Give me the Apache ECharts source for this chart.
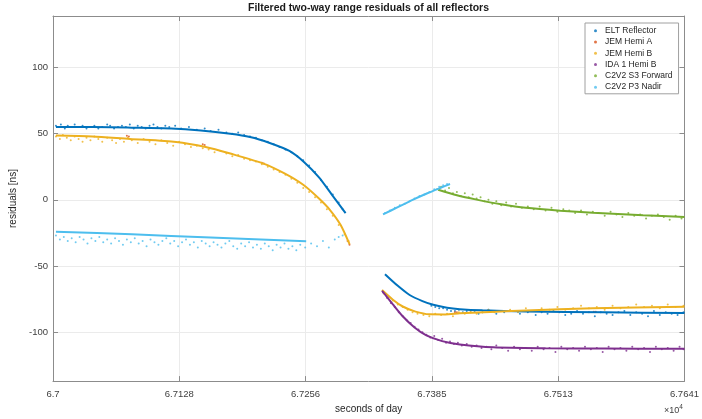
<!DOCTYPE html>
<html>
<head>
<meta charset="utf-8">
<script src="https://cdn.jsdelivr.net/npm/echarts@6/dist/echarts.min.js"></script>
<style>
  html, body { margin: 0; padding: 0; background: #fff; }
  #chart { width: 702px; height: 419px; }
</style>
</head>
<body>
<div id="chart"></div>
<script>
// axis ticks
const xTicks = [67000, 67128.2, 67256.4, 67384.6, 67512.8, 67641];
const xTickLabels = ['6.7', '6.7128', '6.7256', '6.7385', '6.7513', '6.7641'];
const yTicks = [-100, -50, 0, 50, 100];

const names = ['ELT Reflector', 'JEM Hemi A', 'JEM Hemi B', 'IDA 1 Hemi B', 'C2V2 S3 Forward', 'C2V2 P3 Nadir'];
const colors = ['#0072BD', '#D95319', '#EDB120', '#7E2F8E', '#77AC30', '#4DBEEE'];

// measured residuals (dots) [seconds of day, ns]
const eltDots = [
  [67003,56],[67006,55],[67008,57],[67012,54],[67015,56],[67018,55],[67022,57],[67026,55],[67030,56],[67034,54],
  [67038,55],[67042,56],[67046,54],[67050,55],[67055,57],[67058,56],[67062,54],[67066,55],[67070,56],[67074,55],
  [67078,57],[67082,54],[67086,56],[67090,55],[67094,54],[67098,56],[67102,57],[67106,55],[67110,54],[67114,56],
  [67118,55],[67124,56],[67130,54],[67138,55],[67146,53],[67154,54],[67160,52],[67168,53],[67176,51],[67182,50],
  [67188,51],[67194,49],[67200,48],[67206,47],[67212,45],[67218,44],[67224,42],[67230,40],[67236,38],[67242,36],
  [67248,33],[67254,30],[67260,26],[67266,21],[67272,15],[67278,10],[67284,4],[67290,-2],[67294,-7],
  [67384,-80],[67388,-81],[67392,-82],[67396,-82],[67400,-83],[67404,-84],[67408,-84],[67412,-83],[67416,-85],
  [67420,-84],[67424,-85],[67428,-84],[67432,-86],[67436,-85],[67442,-83],[67450,-86],[67458,-85],[67466,-84],
  [67474,-86],[67482,-85],[67490,-87],[67496,-85],[67502,-86],[67508,-84],[67514,-85],[67520,-87],[67526,-86],
  [67532,-84],[67538,-86],[67544,-85],[67550,-88],[67556,-85],[67562,-86],[67568,-87],[67574,-85],[67580,-84],
  [67586,-87],[67592,-85],[67598,-86],[67604,-88],[67610,-84],[67616,-87],[67622,-85],[67628,-86],[67634,-87],
  [67640,-85]
];
const jemADots = [
  [67075,48.5],[67077,48],[67152,42],[67154,41.5],[67212,28],[67214,27.5],[67299,-31],[67301,-34],
  [67408,-85],[67410,-85],[67549,-84.5],[67551,-84.5]
];
const jemBDots = [
  [67003,48],[67007,46],[67010,49],[67014,47],[67018,45],[67022,48],[67026,46],[67030,44],[67034,47],[67038,45],
  [67042,48],[67046,46],[67050,44],[67055,47],[67060,45],[67064,43],[67068,46],[67072,44],[67076,47],[67080,45],
  [67086,43],[67092,46],[67098,44],[67104,42],[67110,45],[67116,43],[67122,41],[67128,44],[67134,42],[67140,40],
  [67146,41],[67152,39],[67158,38],[67164,36],[67170,37],[67176,35],[67182,33],[67188,34],[67194,31],[67200,30],
  [67206,29],[67212,27],[67218,25],[67224,23],[67230,21],[67236,19],[67242,16],[67248,13],[67254,9],[67260,6],
  [67266,2],[67272,-2],[67278,-7],[67284,-12],[67290,-19],[67296,-26],[67300,-31],
  [67336,-71],[67340,-74],[67345,-76],[67350,-79],[67355,-81],[67360,-83],[67365,-85],[67370,-86],[67376,-87],
  [67382,-88],[67388,-86],[67394,-87],[67400,-86],[67406,-88],[67412,-85],[67418,-86],[67424,-84],[67430,-86],
  [67436,-85],[67442,-83],[67448,-85],[67456,-84],[67464,-83],[67472,-85],[67480,-82],[67488,-84],[67496,-82],
  [67504,-83],[67512,-81],[67520,-83],[67528,-82],[67536,-80],[67544,-82],[67552,-81],[67560,-83],[67568,-80],
  [67576,-82],[67584,-81],[67592,-79],[67600,-81],[67608,-80],[67616,-82],[67624,-79],[67632,-81],[67640,-80]
];
const idaDots = [
  [67335,-70],[67339,-74],[67343,-78],[67347,-81],[67351,-85],[67355,-88],[67359,-91],[67363,-93],[67367,-96],
  [67371,-98],[67375,-100],[67379,-102],[67383,-104],[67387,-103],[67391,-106],[67395,-105],[67399,-108],
  [67403,-107],[67407,-109],[67411,-108],[67415,-110],[67420,-109],[67425,-111],[67430,-110],[67435,-112],
  [67440,-111],[67445,-113],[67450,-110],[67456,-112],[67462,-114],[67468,-111],[67474,-113],[67480,-112],
  [67486,-114],[67492,-111],[67498,-113],[67504,-112],[67510,-115],[67516,-111],[67522,-113],[67528,-112],
  [67534,-114],[67540,-111],[67546,-113],[67552,-112],[67558,-115],[67564,-111],[67570,-113],[67576,-112],
  [67582,-114],[67588,-111],[67594,-113],[67600,-112],[67606,-115],[67612,-111],[67618,-113],[67624,-112],
  [67630,-114],[67636,-111],[67640,-113]
];
const s3Dots = [
  [67390,8],[67394,10],[67398,7],[67402,9],[67406,5],[67410,6],[67414,3],[67418,5],[67422,2],[67426,4],
  [67430,1],[67434,2],[67438,-1],[67442,0],[67446,-3],[67450,-1],[67455,-4],[67460,-2],[67465,-5],[67470,-3],
  [67476,-6],[67482,-5],[67488,-7],[67494,-5],[67500,-8],[67506,-6],[67512,-9],[67518,-7],[67524,-8],[67530,-10],
  [67536,-8],[67542,-11],[67548,-9],[67554,-10],[67560,-12],[67566,-9],[67572,-11],[67578,-13],[67584,-10],
  [67590,-12],[67596,-11],[67602,-14],[67608,-12],[67614,-11],[67620,-13],[67626,-15],[67632,-12],[67638,-14]
];
const p3Dots = [
  [67003,-27],[67007,-30],[67011,-28],[67015,-31],[67019,-29],[67023,-32],[67027,-28],[67031,-30],[67035,-33],
  [67039,-29],[67043,-31],[67047,-28],[67051,-32],[67055,-30],[67059,-33],[67063,-29],[67067,-31],[67071,-34],
  [67075,-30],[67079,-32],[67083,-29],[67087,-33],[67091,-31],[67095,-35],[67099,-30],[67103,-32],[67107,-34],
  [67111,-31],[67115,-29],[67119,-33],[67123,-31],[67127,-35],[67131,-32],[67135,-30],[67139,-34],[67143,-32],
  [67147,-36],[67151,-31],[67155,-33],[67159,-35],[67163,-32],[67167,-34],[67171,-36],[67175,-33],[67179,-31],
  [67183,-35],[67187,-37],[67191,-33],[67195,-35],[67199,-32],[67203,-36],[67207,-34],[67211,-37],[67215,-33],
  [67219,-35],[67223,-38],[67227,-34],[67231,-36],[67235,-33],[67239,-37],[67243,-35],[67247,-38],[67251,-34],
  [67256,-36],[67262,-33],[67268,-35],[67274,-31],[67280,-36],[67286,-30],[67290,-28],[67294,-27],
  [67337,-10],[67342,-8],[67347,-6],[67352,-4],[67357,-3],[67362,-1],[67367,1],[67372,3],[67377,4],
  [67382,6],[67387,8],[67392,10],[67396,11],[67400,12]
];

// fitted curves
const eltFit1 = [[67003,55],[67040,55],[67080,54.6],[67120,54],[67150,52.5],[67180,50],[67200,47.5],[67220,43],[67240,37],[67255,28.5],[67270,17],[67283,4],[67297,-10]];
const eltFit2 = [[67337,-56.2],[67350,-65],[67362,-71.9],[67375,-76.5],[67386,-79.3],[67400,-81.5],[67413,-82.6],[67436,-83.5],[67480,-84.3],[67560,-85],[67641,-85.5]];
const jemBFit1 = [[67003,48.7],[67040,48],[67078,46],[67125,43.8],[67155,40],[67180,35],[67213,27.6],[67235,20],[67254,11.4],[67270,1],[67281,-7.5],[67292,-19],[67301,-33.5]];
const jemBFit2 = [[67334,-68.2],[67345,-75.5],[67355,-80.6],[67368,-84.5],[67382,-86.5],[67398,-86.6],[67413,-85.8],[67450,-84.5],[67480,-83.6],[67548,-82],[67641,-80.8]];
const idaFit = [[67334,-68.7],[67345,-79],[67355,-88],[67367,-96.5],[67379,-102.5],[67395,-106.8],[67413,-109.3],[67447,-111.5],[67500,-112.2],[67560,-112.4],[67641,-112.6]];
const s3Fit = [[67391,7.7],[67410,3.5],[67430,0.2],[67455,-3.3],[67480,-6],[67515,-8.2],[67548,-9.7],[67599,-11.7],[67641,-12.9]];
const p3Fit1 = [[67003,-24.1],[67080,-26],[67160,-28.5],[67257,-31.3]];
const p3Fit2 = [[67335,-11],[67350,-5.5],[67365,0],[67380,5],[67393,9],[67403,12]];

const font = 'Liberation Sans, Arial, Helvetica, sans-serif';
const chart = echarts.init(document.getElementById('chart'));

function dots(i, data) {
  return {
    name: names[i], type: 'scatter', data: data,
    symbol: 'circle', symbolSize: 2,
    itemStyle: { color: colors[i], opacity: 0.8 },
    silent: true, z: 2
  };
}
function fit(i, data) {
  return {
    name: names[i] + ' fit', type: 'line', data: data,
    smooth: 0.25, showSymbol: false,
    lineStyle: { color: colors[i], width: 2 },
    silent: true, z: 3
  };
}

const axisLineStyle = { color: '#8c8c8c', width: 1 };
const labelStyle = { color: '#404040', fontSize: 9.5, fontFamily: font };

chart.setOption({
  animation: false,
  backgroundColor: '#fff',
  graphic: [
    { type: 'text', left: 369 - 121, top: 3,
      style: { text: 'Filtered two-way range residuals of all reflectors', font: 'bold 10.5px ' + font, fill: '#1a1a1a' } },
    { type: 'text', left: 664, top: 404,
      style: { rich: { a: { fontSize: 9, fontFamily: font, fill: '#404040' }, s: { fontSize: 6.5, fontFamily: font, fill: '#404040', verticalAlign: 'top', padding: [0, 0, 6, 0] } },
               text: '{a|\u00d710}{s|4}' } }
  ],
  grid: { left: 53, right: 17, top: 16, bottom: 34, show: false },
  legend: {
    data: names,
    orient: 'vertical',
    left: 585, top: 23,
    padding: [2, 6, 1, 9],
    itemGap: 0,
    itemWidth: 3, itemHeight: 3,
    icon: 'circle',
    backgroundColor: '#fff',
    borderColor: '#a0a0a0', borderWidth: 1,
    textStyle: { fontSize: 8.5, fontFamily: font, color: '#262626', lineHeight: 11.3, padding: [0, 0, 0, 3] },
    selectedMode: false
  },
  xAxis: [{
    type: 'value', min: 67000, max: 67641,
    name: 'seconds of day', nameLocation: 'middle', nameGap: 22,
    nameTextStyle: { fontSize: 10, fontFamily: font, color: '#262626' },
    axisLine: { show: true, onZero: false, lineStyle: axisLineStyle },
    axisTick: { show: true, inside: true, length: 5, customValues: xTicks, lineStyle: axisLineStyle },
    axisLabel: { customValues: xTicks, margin: 8, ...labelStyle,
      formatter: function (v) { const i = xTicks.findIndex(t => Math.abs(t - v) < 0.5); return i >= 0 ? xTickLabels[i] : ''; } },
    splitLine: { show: true, lineStyle: { color: '#ebebeb', width: 1 } }
  }, {
    type: 'value', min: 67000, max: 67641, position: 'top',
    axisLine: { show: true, onZero: false, lineStyle: axisLineStyle },
    axisTick: { show: true, inside: true, length: 5, customValues: xTicks, lineStyle: axisLineStyle },
    axisLabel: { show: false },
    splitLine: { show: false }
  }],
  yAxis: [{
    type: 'value', min: -137, max: 139,
    name: 'residuals [ns]', nameLocation: 'middle', nameGap: 30,
    nameTextStyle: { fontSize: 10, fontFamily: font, color: '#262626' },
    axisLine: { show: true, onZero: false, lineStyle: axisLineStyle },
    axisTick: { show: true, inside: true, length: 5, customValues: yTicks, lineStyle: axisLineStyle },
    axisLabel: { customValues: yTicks, margin: 5, ...labelStyle },
    splitLine: { show: true, lineStyle: { color: '#ebebeb', width: 1 } }
  }, {
    type: 'value', min: -137, max: 139, position: 'right',
    axisLine: { show: true, onZero: false, lineStyle: axisLineStyle },
    axisTick: { show: true, inside: true, length: 5, customValues: yTicks, lineStyle: axisLineStyle },
    axisLabel: { show: false },
    splitLine: { show: false }
  }],
  series: [
    dots(0, eltDots), fit(0, eltFit1), fit(0, eltFit2),
    dots(1, jemADots),
    dots(2, jemBDots), fit(2, jemBFit1), fit(2, jemBFit2),
    dots(3, idaDots), fit(3, idaFit),
    dots(4, s3Dots), fit(4, s3Fit),
    dots(5, p3Dots), fit(5, p3Fit1), fit(5, p3Fit2)
  ]
});
</script>
</body>
</html>
